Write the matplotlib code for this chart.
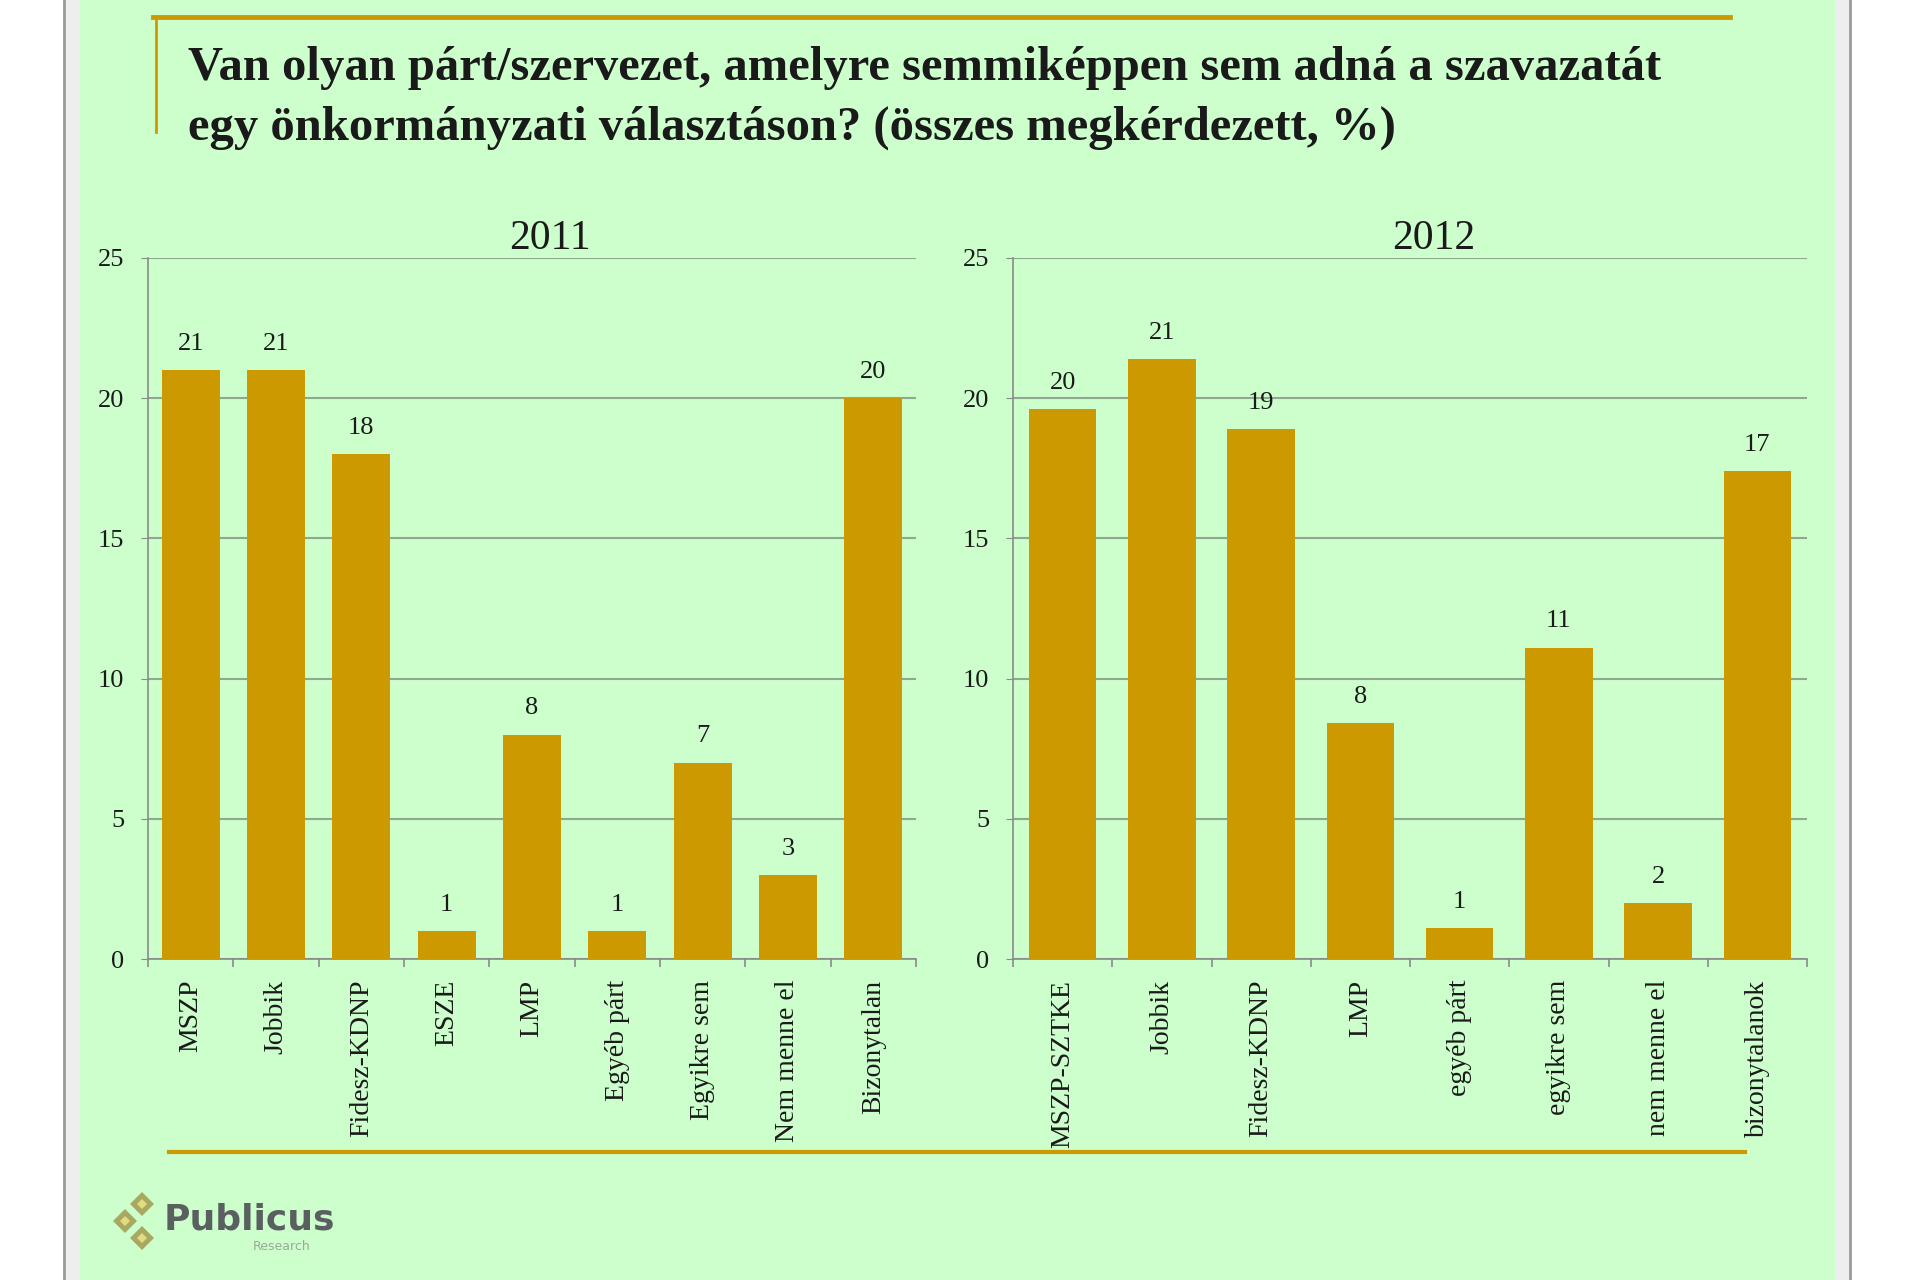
import matplotlib
matplotlib.use("Agg")
import matplotlib.pyplot as plt
from matplotlib.patches import Rectangle, Polygon
from matplotlib.lines import Line2D

# adatok
kat_2011 = ['MSZP', 'Jobbik', 'Fidesz-KDNP', 'ESZE', 'LMP', 'Egyéb párt',
            'Egyikre sem', 'Nem menne el', 'Bizonytalan']
ert_2011 = [21, 21, 18, 1, 8, 1, 7, 3, 20]

kat_2012 = ['MSZP-SZTKE', 'Jobbik', 'Fidesz-KDNP', 'LMP', 'egyéb párt',
            'egyikre sem', 'nem menne el', 'bizonytalanok']
ert_2012 = [19.6, 21.4, 18.9, 8.4, 1.1, 11.1, 2.0, 17.4]

cim = ('Van olyan párt/szervezet, amelyre semmiképpen sem adná a szavazatát\n'
       'egy önkormányzati választáson? (összes megkérdezett, %)')

ARANY = '#CC9900'
HATTER = '#CCFFCC'
SZOVEG = '#1a1a1a'
plt.rcParams['font.family'] = ['Liberation Serif', 'DejaVu Serif']

fig = plt.figure(figsize=(19.2, 12.8), dpi=100, facecolor='white')
W, H = 1920, 1280

def fx(px):
    return px / W

def fy(py):
    return 1 - py / H

# háttér és keret
fig.patches.append(Rectangle((fx(64), 0), fx(1850) - fx(64), 1, transform=fig.transFigure,
                             facecolor='#eeeeee', edgecolor='none', zorder=-3))
fig.patches.append(Rectangle((fx(80), 0), fx(1835) - fx(80), 1, transform=fig.transFigure,
                             facecolor=HATTER, edgecolor='none', zorder=-2))
fig.lines.append(Line2D([fx(64), fx(64)], [0, 1], transform=fig.transFigure, color='#9a9a9a', lw=2))
fig.lines.append(Line2D([fx(1850), fx(1850)], [0, 1], transform=fig.transFigure, color='#9a9a9a', lw=2))

# címkeret
fig.lines.append(Line2D([fx(153), fx(1730)], [fy(17), fy(17)], transform=fig.transFigure,
                        color=ARANY, lw=3.5))
fig.lines.append(Line2D([fx(156), fx(156)], [fy(17), fy(132)], transform=fig.transFigure,
                        color=ARANY, lw=2))
fig.text(fx(188), fy(46), cim, ha='left', va='top', fontsize=35, fontweight='bold',
         color=SZOVEG, linespacing=1.45)

# alsó vonal
fig.lines.append(Line2D([fx(169), fx(1745)], [fy(1152), fy(1152)], transform=fig.transFigure,
                        color=ARANY, lw=3))


def panel(ax, kat, ert, ev, cx):
    x = range(len(kat))
    bars = ax.bar(x, ert, width=0.68, color=ARANY, zorder=3)
    for b, v in zip(bars, ert):
        ax.annotate(f'{round(v):d}', (b.get_x() + b.get_width() / 2, v),
                    xytext=(0, 11), textcoords='offset points', ha='center', va='bottom',
                    fontsize=19, color=SZOVEG)
    ax.set_facecolor('none')
    ax.set_xlim(-0.5, len(kat) - 0.5)
    ax.set_ylim(0, 25)
    ax.set_yticks([0, 5, 10, 15, 20, 25])
    ax.set_xticks(list(x))
    ax.set_xticklabels(kat, rotation=90, fontsize=20, color=SZOVEG, va='top')
    ax.set_xticks([i - 0.5 for i in range(len(kat) + 1)], minor=True)
    ax.tick_params(axis='x', which='major', length=0, pad=15)
    ax.tick_params(axis='x', which='minor', length=6, color='#8a8a8a', width=1.2)
    ax.tick_params(axis='y', length=5, color='#8a8a8a', labelsize=19, labelcolor=SZOVEG, pad=12)
    ax.grid(axis='y', color='#8fa88f', lw=1.5, zorder=0)
    for s in ['top', 'right']:
        ax.spines[s].set_visible(False)
    for s in ['left', 'bottom']:
        ax.spines[s].set_color('#8a8a8a')
        ax.spines[s].set_linewidth(1.2)
    fig.text(fx(cx), fy(239), ev, ha='center', va='center', fontsize=30, color=SZOVEG)


ax1 = fig.add_axes([fx(148), fy(959), fx(916) - fx(148), fy(258) - fy(959)])
ax2 = fig.add_axes([fx(1013), fy(959), fx(1807) - fx(1013), fy(258) - fy(959)])
panel(ax1, kat_2011, ert_2011, '2011', 550)
panel(ax2, kat_2012, ert_2012, '2012', 1434)

# logó
for (dx, dy) in [(142, 1204), (125, 1221), (142, 1238)]:
    for d, c in [(12, '#a8a860'), (5, '#e0dc80')]:
        fig.patches.append(Polygon([(fx(dx - d), fy(dy)), (fx(dx), fy(dy - d)),
                                    (fx(dx + d), fy(dy)), (fx(dx), fy(dy + d))],
                                   closed=True, transform=fig.transFigure,
                                   facecolor=c, edgecolor='none'))
fig.text(fx(164), fy(1220), 'Publicus', ha='left', va='center', fontsize=26,
         fontweight='bold', color='#5a6060', family=['DejaVu Sans'])
fig.text(fx(253), fy(1246), 'Research', ha='left', va='center', fontsize=9,
         color='#9aa89a', family=['DejaVu Sans'])

fig.savefig('out.png', dpi=100, facecolor='white')
